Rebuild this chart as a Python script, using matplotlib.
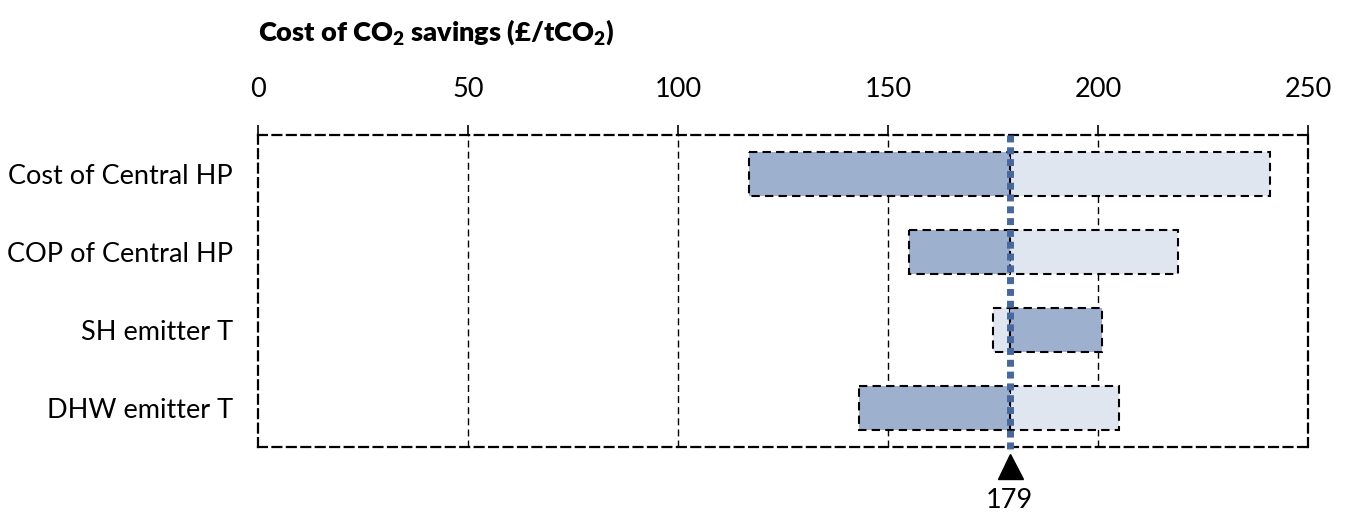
import matplotlib
matplotlib.use("Agg")
import matplotlib.pyplot as plt

plt.rcParams['font.family'] = ['Lato', 'DejaVu Sans']
plt.rcParams['mathtext.default'] = 'regular'

categories = ["Cost of Central HP", "COP of Central HP", "SH emitter T", "DHW emitter T"]
base_value = 179
dark_values = [117, 155, 201, 143]   # darker bar end
light_values = [241, 219, 175, 205]  # lighter bar end
x_ticks = [0, 50, 100, 150, 200, 250]

dark_color = "#9DB0CE"
light_color = "#DFE6F0"
line_color = "#46689E"

fig = plt.figure(figsize=(13.47, 5.22), dpi=100)
ax = fig.add_axes([0.1915, 0.1437, 0.7795, 0.5977])
ax.set_xlim(0, 250)
ax.set_ylim(len(categories) - 0.5, -0.5)

h = 0.56
for i, cat in enumerate(categories):
    for val, col in ((light_values[i], light_color), (dark_values[i], dark_color)):
        left = min(val, base_value)
        ax.barh(i, abs(val - base_value), left=left, height=h, color=col,
                edgecolor='black', linewidth=1.5, linestyle=(0, (4, 2.5)), zorder=3)

# grid
for t in x_ticks[1:-1]:
    ax.axvline(t, color='black', lw=1.0, ls=(0, (5, 3)), zorder=1)

for s in ax.spines.values():
    s.set_linestyle((0, (4, 2.5)))
    s.set_linewidth(1.6)
    s.set_color('black')

ax.xaxis.tick_top()
ax.set_xticks(x_ticks)
ax.set_xticklabels([str(t) for t in x_ticks])
ax.tick_params(axis='x', direction='out', length=7, width=1.2, pad=16.5, labelsize=19.5)
ax.set_yticks(range(len(categories)))
ax.set_yticklabels(categories)
ax.tick_params(axis='y', length=0, pad=18, labelsize=19.5)

# base line
ax.plot([base_value, base_value], [-0.5, len(categories) - 0.5 + 0.05], color=line_color,
        lw=5, ls=(0, (1, 0.7)), zorder=5, clip_on=False, solid_capstyle='butt', dash_capstyle='butt')
ax.plot([base_value], [len(categories) - 0.5 + 0.25], marker='^', markersize=18,
        color='black', clip_on=False, zorder=6)
ax.text(base_value, len(categories) - 0.5 + 0.68, str(base_value), ha='center', va='center',
        fontsize=19.5)

fig.text(258 / 1347, 1 - 32 / 522, "Cost of CO$_2$ savings (£/tCO$_2$)", fontsize=19.5,
         fontweight='heavy', ha='left', va='center')

fig.savefig("out.png", dpi=100)
